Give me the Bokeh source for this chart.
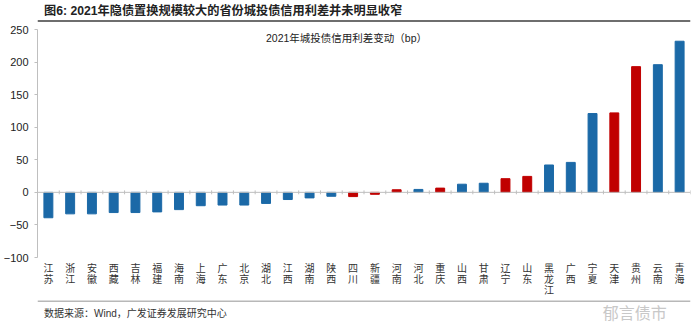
from bokeh.plotting import figure
from bokeh.layouts import column
from bokeh.models import (Range1d, FixedTicker, Span, Label, ColumnDataSource)
from bokeh.embed import file_html
from bokeh.resources import INLINE

# ---- data ----
provinces = ["江苏", "浙江", "安徽", "西藏", "吉林", "福建", "海南", "上海", "广东", "北京",
             "湖北", "江西", "湖南", "陕西", "四川", "新疆", "河南", "河北", "重庆", "山西",
             "甘肃", "辽宁", "山东", "黑龙江", "广西", "宁夏", "天津", "贵州", "云南", "青海"]
spread_change = [-39, -33, -33, -31, -31, -30, -26.5, -20.5, -19.5, -19.5,
                 -17, -11, -8.5, -6, -6.5, -3, 4, 4.5, 6.5, 12.5,
                 14, 21, 24.5, 42, 46, 121, 122, 193, 196, 232]
highlighted = ["四川", "新疆", "河南", "重庆", "辽宁", "山东", "天津", "贵州"]
y_ticks = [-100, -50, 0, 50, 100, 150, 200, 250]

heading = "图6: 2021年隐债置换规模较大的省份城投债信用利差并未明显收窄"
inner_title = "2021年城投债信用利差变动（bp）"
source_text = "数据来源：Wind，广发证券发展研究中心"
watermark = "郁言债市"

BLUE = "#1B69A7"
RED = "#C00000"
LATIN = "'Liberation Sans', 'Noto Sans CJK SC'"
CJK = "'Noto Sans CJK SC'"

W = 700
HEAD_H = 22
FOOT_H = 35
MAIN_H = 335 - HEAD_H - FOOT_H


def blank(h):
    f = figure(width=W, height=h, x_range=Range1d(0, W), y_range=Range1d(h, 0),
               x_axis_type=None, y_axis_type=None, output_backend="svg", toolbar_location=None,
               min_border=0)
    f.outline_line_color = None
    f.xgrid.visible = False
    f.ygrid.visible = False
    return f


# ---- header ----
head = blank(HEAD_H)
head.add_layout(Label(x=7, y=10, text=heading, text_font=LATIN, text_font_size="12.2px",
                      text_font_style="bold", text_color="#222222", text_baseline="middle"))
head.add_layout(Span(location=20.5, dimension="width", line_color="#6E6E6E", line_width=2))

# ---- main chart ----
n = len(provinces)
xs = list(range(n))
colors = [RED if pr in highlighted else BLUE for pr in provinces]
src = ColumnDataSource(dict(x=xs, v=spread_change, c=colors))

p = figure(width=W, height=MAIN_H, x_range=Range1d(-0.5, n - 0.5), y_range=Range1d(-100, 250),
           output_backend="svg", toolbar_location=None,
           min_border_left=34, min_border_right=10, min_border_top=29 - HEAD_H,
           min_border_bottom=MAIN_H - (259 - HEAD_H))
p.outline_line_color = None
p.xgrid.visible = False
p.ygrid.visible = False

p.vbar(x="x", top="v", bottom=0, width=0.41, fill_color="c", line_color="c", source=src)

p.add_layout(Span(location=0, dimension="width", line_color="#BFBFBF", line_width=1))
bx = [i - 0.5 for i in range(n + 1)]
p.segment(x0=bx, y0=[-3] * len(bx), x1=bx, y1=[3] * len(bx), line_color="#BFBFBF", line_width=1)

ya = p.yaxis[0]
ya.ticker = FixedTicker(ticks=y_ticks)
ya.axis_line_color = "#BFBFBF"
ya.major_tick_line_color = "#BFBFBF"
ya.major_tick_out = 3
ya.major_tick_in = 0
ya.minor_tick_line_color = None
ya.major_label_text_font = LATIN
ya.major_label_text_font_size = "11px"
ya.major_label_text_color = "#222222"
ya.major_label_standoff = 6

xa = p.xaxis[0]
xa.ticker = FixedTicker(ticks=xs)
xa.major_label_overrides = {i: "\n".join(name) for i, name in enumerate(provinces)}
xa.axis_line_color = None
xa.major_tick_line_color = None
xa.major_tick_out = 0
xa.major_tick_in = 0
xa.minor_tick_line_color = None
xa.major_label_text_font = CJK
xa.major_label_text_font_size = "10px"
xa.major_label_text_color = "#333333"
xa.major_label_text_line_height = 0.75
xa.major_label_standoff = 2

p.add_layout(Label(x=346, y=37 - HEAD_H, x_units="canvas", y_units="canvas", text=inner_title,
                   text_font=LATIN, text_font_size="10.5px", text_color="#222222",
                   text_baseline="middle", text_align="center"))

# ---- footer ----
foot = blank(FOOT_H)
foot.add_layout(Span(location=0.5, dimension="width", line_color="#A0A0A0", line_width=1.5))
foot.add_layout(Label(x=7, y=13, text=source_text, text_font=LATIN, text_font_size="10px",
                      text_color="#333333", text_baseline="middle"))
foot.add_layout(Label(x=606, y=11, text=watermark, text_font=CJK, text_font_size="16px",
                      text_color="#C8C8C8", text_baseline="middle"))

layout = column(head, p, foot, spacing=0)
open("out.html", "w").write(file_html(layout, INLINE))
